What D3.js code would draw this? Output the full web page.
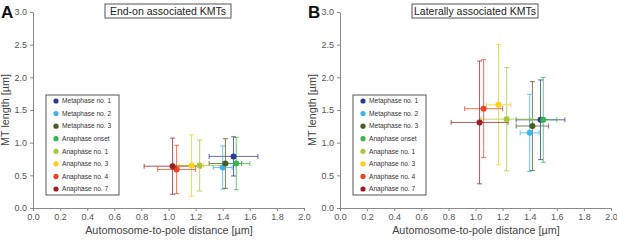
<!DOCTYPE html>
<html><head><meta charset="utf-8">
<script src="https://cdn.jsdelivr.net/npm/d3@7"></script>
<style>body{margin:0;background:#fff}svg{display:block;font-family:"Liberation Sans",Arial,sans-serif}</style>
</head><body><svg id="c" width="617" height="240"></svg>
<script>
const stages = ["Metaphase no. 1","Metaphase no. 2","Metaphase no. 3","Anaphase onset","Anaphase no. 1","Anaphase no. 3","Anaphase no. 4","Anaphase no. 7"];
const colors = ["#2b3990","#3fb4e5","#4a5c25","#39b54a","#a6c83a","#f9d215","#ef4123","#9b1e23"];
const distance = [1.48,1.40,1.42,1.50,1.23,1.17,1.06,1.03];
const distanceErr = [0.18,0.07,0.12,0.10,0.19,0.09,0.14,0.21];
const endOnLength = [0.79,0.62,0.68,0.68,0.65,0.65,0.59,0.64];
const endOnErr = [0.30,0.33,0.38,0.40,0.39,0.47,0.37,0.43];
const lateralLength = [1.35,1.15,1.255,1.35,1.36,1.58,1.52,1.31];
const lateralErr = [0.61,0.59,0.68,0.65,0.79,0.92,0.75,0.94];
const xTicks = [0,0.2,0.4,0.6,0.8,1.0,1.2,1.4,1.6,1.8,2.0];
const yTicks = [0,0.5,1.0,1.5,2.0,2.5,3.0];

const svg = d3.select("#c");
function panel(ox, letter, title, ys, yerr){
  const g = svg.append("g");
  const x = d3.scaleLinear().domain([0,2]).range([ox+33, ox+304]);
  const y = d3.scaleLinear().domain([0,3]).range([208, 12]);
  const xa = g.append("g").attr("transform","translate(0,208)")
    .call(d3.axisBottom(x).tickValues(xTicks).tickFormat(d3.format(".1f")).tickSizeInner(3).tickSizeOuter(0).tickPadding(3));
  const ya = g.append("g").attr("transform",`translate(${ox+33},0)`)
    .call(d3.axisLeft(y).tickValues(yTicks).tickFormat(d3.format(".1f")).tickSizeInner(3).tickSizeOuter(0).tickPadding(3));
  [xa,ya].forEach(a=>{
    a.select(".domain").attr("stroke","#8a8a8a");
    a.selectAll(".tick line").attr("stroke","#8a8a8a");
    a.selectAll("text").attr("fill","#555").style("font-size","9px");
  });
  g.append("text").attr("x",ox+169).attr("y",234).attr("text-anchor","middle")
    .attr("fill","#444").style("font-size","10.8px").text("Automosome-to-pole distance [µm]");
  g.append("text").attr("transform",`translate(${ox+9},110) rotate(-90)`).attr("text-anchor","middle")
    .attr("fill","#444").style("font-size","10.8px").text("MT length [µm]");
  g.append("text").attr("x",ox+1).attr("y",18).attr("fill","#111").style("font-size","17px").style("font-weight","bold").text(letter);
  // title box
  g.append("rect").attr("x",ox+105).attr("y",4).attr("width",126).attr("height",14).attr("fill","#fff").attr("stroke","#555").attr("stroke-width",1);
  g.append("text").attr("x",ox+168).attr("y",15).attr("text-anchor","middle").attr("fill","#222").style("font-size","10.5px").text(title);
  // legend
  g.append("rect").attr("x",ox+46).attr("y",95).attr("width",73).attr("height",100).attr("fill","#fff").attr("stroke","#555").attr("stroke-width",1);
  const ly = d3.scalePoint().domain(stages).range([101,189]);
  stages.forEach((s,i)=>{
    g.append("circle").attr("cx",ox+56).attr("cy",ly(s)).attr("r",2.6).attr("fill",colors[i]);
    g.append("text").attr("x",ox+62).attr("y",ly(s)+2.3).attr("fill","#333").style("font-size","6.6px").text(s);
  });
  // error bars & points
  const cap = 2.5;
  stages.forEach((s,i)=>{
    const e = g.append("g").attr("stroke",colors[i]).attr("stroke-opacity",0.75).attr("stroke-width",1);
    const cx = x(distance[i]), cy = y(ys[i]);
    const x1 = x(distance[i]-distanceErr[i]), x2 = x(distance[i]+distanceErr[i]);
    const y1 = y(ys[i]-yerr[i]), y2 = y(ys[i]+yerr[i]);
    e.append("line").attr("x1",x1).attr("x2",x2).attr("y1",cy).attr("y2",cy);
    e.append("line").attr("x1",x1).attr("x2",x1).attr("y1",cy-cap).attr("y2",cy+cap);
    e.append("line").attr("x1",x2).attr("x2",x2).attr("y1",cy-cap).attr("y2",cy+cap);
    e.append("line").attr("x1",cx).attr("x2",cx).attr("y1",y1).attr("y2",y2);
    e.append("line").attr("x1",cx-cap).attr("x2",cx+cap).attr("y1",y1).attr("y2",y1);
    e.append("line").attr("x1",cx-cap).attr("x2",cx+cap).attr("y1",y2).attr("y2",y2);
  });
  stages.forEach((s,i)=>{
    g.append("circle").attr("cx",x(distance[i])).attr("cy",y(ys[i])).attr("r",3).attr("fill",colors[i]);
  });
}
panel(0,"A","End-on associated KMTs",endOnLength,endOnErr);
panel(307,"B","Laterally associated KMTs",lateralLength,lateralErr);
</script></body></html>
